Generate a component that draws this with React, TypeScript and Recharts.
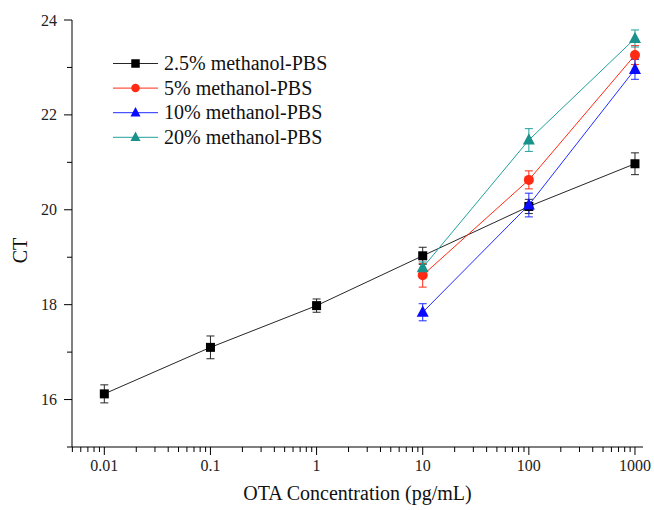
import React from "react";
import { LineChart, Line, XAxis, YAxis, ErrorBar, Legend } from "recharts";

// OTA concentration (pg/mL)
const concAll = [0.01, 0.1, 1, 10, 100, 1000];
const concHigh = [10, 100, 1000];

// CT values and error bars
const ct25 = [16.12, 17.1, 17.98, 19.03, 20.07, 20.97];
const err25 = [0.19, 0.24, 0.14, 0.18, 0.15, 0.23];
const ct5 = [18.62, 20.63, 23.26];
const err5 = [0.25, 0.19, 0.2];
const ct10 = [17.84, 20.1, 22.96];
const err10 = [0.18, 0.25, 0.21];
const ct20 = [18.78, 21.47, 23.61];
const err20 = [0.12, 0.24, 0.18];

const xTicks = [0.01, 0.1, 1, 10, 100, 1000];
const xTickLabels = ["0.01", "0.1", "1", "10", "100", "1000"];
const xMinorTicks = [
  0.005, 0.006, 0.007, 0.008, 0.009,
  0.02, 0.03, 0.04, 0.05, 0.06, 0.07, 0.08, 0.09,
  0.2, 0.3, 0.4, 0.5, 0.6, 0.7, 0.8, 0.9,
  2, 3, 4, 5, 6, 7, 8, 9,
  20, 30, 40, 50, 60, 70, 80, 90,
  200, 300, 400, 500, 600, 700, 800, 900,
];
const yTicks = [16, 18, 20, 22, 24];
const yMinorTicks = [15, 17, 19, 21, 23];

const FONT = '"Liberation Serif", "Times New Roman", serif';

const rows = (xs: number[], ys: number[], es: number[]) =>
  xs.map((x, i) => ({ conc: x, ct: ys[i], err: es[i] }));

const series = [
  { name: "2.5% methanol-PBS", color: "#000000", line: "#262626", shape: "square", data: rows(concAll, ct25, err25) },
  { name: "5% methanol-PBS", color: "#ff2a14", line: "#ff2a14", shape: "circle", data: rows(concHigh, ct5, err5) },
  { name: "10% methanol-PBS", color: "#0a0aff", line: "#1e2cff", shape: "triangle", data: rows(concHigh, ct10, err10) },
  { name: "20% methanol-PBS", color: "#1a918b", line: "#22a09a", shape: "triangle", data: rows(concHigh, ct20, err20) },
];

const Marker = ({ shape, cx, cy, color, size }: any) => {
  if (cx == null || cy == null) return null;
  if (shape === "square")
    return <rect x={cx - size / 2} y={cy - size / 2} width={size} height={size} fill={color} />;
  if (shape === "circle") return <circle cx={cx} cy={cy} r={size / 2} fill={color} />;
  const h = size * 0.95;
  return (
    <polygon
      points={`${cx},${cy - h * 0.6} ${cx - size / 2},${cy + h * 0.4} ${cx + size / 2},${cy + h * 0.4}`}
      fill={color}
    />
  );
};

const XTick = ({ x, y, payload }: any) => {
  const i = xTicks.indexOf(payload.value);
  const major = i >= 0;
  return (
    <g>
      <line x1={x} y1={y} x2={x} y2={y + (major ? 8 : 5)} stroke="#000" />
      {major && (
        <text x={x} y={y + 24} textAnchor="middle" fontSize={16} fontFamily={FONT} fill="#222">
          {xTickLabels[i]}
        </text>
      )}
    </g>
  );
};

const YTick = ({ x, y, payload }: any) => {
  const major = yTicks.includes(payload.value);
  return (
    <g>
      <line x1={x - (major ? 8 : 5)} y1={y} x2={x} y2={y} stroke="#000" />
      {major && (
        <text x={x - 15} y={y + 5.5} textAnchor="end" fontSize={16} fontFamily={FONT} fill="#222">
          {payload.value}
        </text>
      )}
    </g>
  );
};

const LegendBox = () => (
  <svg width={240} height={100}>
    {series.map((s, i) => {
      const cy = 15.5 + i * 24.6;
      return (
        <g key={s.name}>
          <line x1={13} y1={cy} x2={58} y2={cy} stroke={s.line} />
          <Marker shape={s.shape} cx={35.5} cy={cy} color={s.color} size={s.shape === "triangle" ? 10 : 8.5} />
          <text x={64} y={cy + 6.5} fontSize={20} fontFamily={FONT} fill="#111">
            {s.name}
          </text>
        </g>
      );
    })}
  </svg>
);

export default function App() {
  return (
    <div style={{ position: "absolute", left: 0, top: 0, width: 654, height: 510, background: "#fff" }}>
      <LineChart width={654} height={510} margin={{ top: 20, right: 11, bottom: 0, left: 0 }}>
        <XAxis
          dataKey="conc"
          type="number"
          scale="log"
          domain={[0.00496, 1190]}
          allowDataOverflow
          ticks={[...xMinorTicks, ...xTicks].sort((a, b) => a - b)}
          interval={0}
          tick={(p: any) => <XTick {...p} />}
          tickLine={false}
          tickSize={0}
          tickMargin={0}
          axisLine={{ stroke: "#000" }}
          height={63}
          label={({ viewBox }: any) => (
            <text
              x={viewBox.x + viewBox.width / 2}
              y={viewBox.y + 53}
              textAnchor="middle"
              fontSize={20}
              fontFamily={FONT}
              fill="#111"
            >
              OTA Concentration (pg/mL)
            </text>
          )}
        />
        <YAxis
          type="number"
          domain={[15, 24]}
          allowDataOverflow
          ticks={[...yMinorTicks, ...yTicks].sort((a, b) => a - b)}
          interval={0}
          tick={(p: any) => <YTick {...p} />}
          tickLine={false}
          tickSize={0}
          tickMargin={0}
          axisLine={{ stroke: "#000" }}
          width={72}
          label={({ viewBox }: any) => (
            <text
              x={viewBox.x + 27}
              y={viewBox.y + viewBox.height * 0.54}
              textAnchor="middle"
              fontSize={20}
              fontFamily={FONT}
              fill="#111"
              transform={`rotate(-90, ${viewBox.x + 27}, ${viewBox.y + viewBox.height * 0.54})`}
            >
              CT
            </text>
          )}
        />
        <Legend
          layout="vertical"
          align="center"
          verticalAlign="middle"
          wrapperStyle={{ left: 100, top: 48, width: 240, height: 100 }}
          content={() => <LegendBox />}
        />
        {series.map((s) => (
          <Line
            key={s.name}
            name={s.name}
            data={s.data}
            dataKey="ct"
            type="linear"
            stroke={s.line}
            strokeWidth={1}
            isAnimationActive={false}
            activeDot={false}
            dot={(p: any) => (
              <Marker
                key={`${s.name}-${p.index}`}
                shape={s.shape}
                cx={p.cx}
                cy={p.cy}
                color={s.color}
                size={s.shape === "triangle" ? 12 : s.shape === "circle" ? 10 : 9}
              />
            )}
          >
            <ErrorBar dataKey="err" direction="y" width={4} stroke={s.line} strokeWidth={1} isAnimationActive={false} />
          </Line>
        ))}
      </LineChart>
    </div>
  );
}
